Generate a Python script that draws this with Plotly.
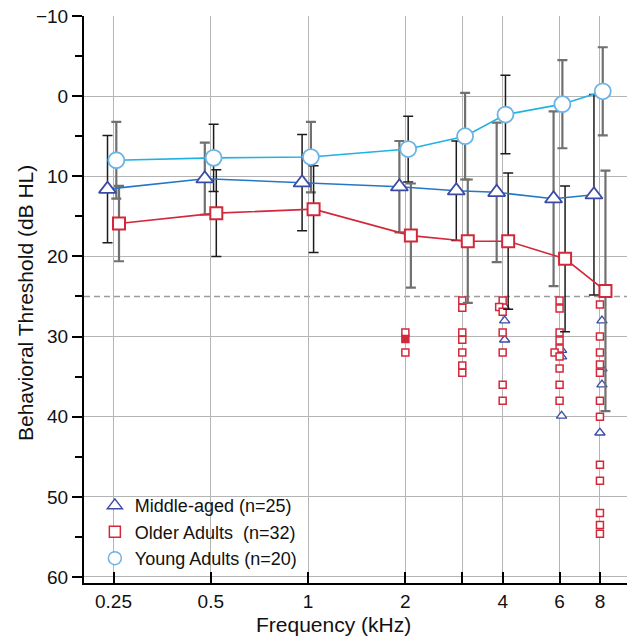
import numpy as np
import plotly.graph_objects as go

# ---- audiometric frequencies (kHz) and axis labels ----
freqs = [0.25, 0.5, 1, 2, 3, 4, 6, 8]
freq_labels = ["0.25", "0.5", "1", "2", "", "4", "6", "8"]
y_ticks = [-10, 0, 10, 20, 30, 40, 50, 60]
y_labels = ["\u221210", "0", "10", "20", "30", "40", "50", "60"]

# ---- group means and standard deviations (dB HL) ----
middle_mean = [11.6, 10.3, 10.8, 11.3, 11.8, 12.0, 12.8, 12.3]
middle_sd = [6.7, 4.5, 6.0, 5.7, 6.2, 8.7, 10.9, 12.5]
older_mean = [15.9, 14.6, 14.1, 17.4, 18.1, 18.1, 20.3, 24.3]
older_sd = [4.7, 5.4, 5.4, 6.5, 7.7, 8.5, 9.1, 15.0]
young_mean = [8.0, 7.7, 7.6, 6.6, 5.0, 2.3, 1.0, -0.6]
young_sd = [4.8, 4.2, 4.4, 4.1, 5.4, 4.9, 5.5, 5.5]

# ---- individual thresholds above 25 dB HL ----
older_ind_khz = [2, 2, 2,
                 3, 3, 3, 3, 3, 3, 3,
                 4, 4, 4, 4, 4, 4, 4,
                 6, 6, 6, 6, 6, 6, 6, 6, 6, 6,
                 8, 8, 8, 8, 8, 8, 8, 8, 8, 8, 8, 8]
older_ind_db = [29.5, 30.3, 32.0,
                25.5, 26.4, 29.5, 30.4, 32.0, 33.6, 34.5,
                25.5, 26.3, 26.9, 29.5, 32.0, 36.0, 38.0,
                25.5, 26.5, 29.5, 30.5, 31.5, 32.0, 32.5, 34.0, 36.0, 38.0,
                26.0, 30.0, 32.0, 33.5, 34.5, 38.0, 40.0, 46.0, 48.0, 52.0, 53.5, 54.6]
middle_ind_khz = [4, 4, 4, 6, 6, 6, 8, 8, 8, 8]
middle_ind_db = [26.3, 28.0, 30.4, 31.7, 32.5, 39.9, 28.0, 34.0, 36.0, 42.0]

# ---- figure geometry ----
W, H = 627, 639
M = dict(l=84, r=0, t=16, b=56)
x_range = [np.log10(0.2026), np.log10(9.7)]
y_range = [60.75, -10]
px_per_dec = (W - M["l"] - M["r"]) / (x_range[1] - x_range[0])


def dodge(f, px):
    """Shift a frequency sideways by a fixed number of pixels on the log axis."""
    return [v * 10 ** (px / px_per_dec) for v in f]


# ---- styles ----
FONT = "Liberation Sans, Arial, Helvetica, sans-serif"
C_MID_MK, C_MID_LN = "#3b4aa6", "#2378c6"
C_OLD = "#d3283a"
C_YNG_MK, C_YNG_LN = "#6cb3e6", "#20b2e2"
EB_STYLE = {"k": ("#1c1c1c", 1.5), "g": ("#707070", 2.2)}
mid_eb = ["k", "g", "k", "g", "k", "g", "g", "k"]
yng_eb = ["g", "k", "g", "k", "g", "k", "g", "g"]
old_eb = ["g", "k", "k", "g", "g", "k", "k", "g"]
DX_MID, DX_YNG, DX_OLD = -6.0, 2.8, 5.5

fig = go.Figure()

# individual points: middle-aged (triangles, nudged right of the grid line)
mid_x = [f * 10 ** ((2.0 if d < 41 else 0.0) / px_per_dec)
         for f, d in zip(middle_ind_khz, middle_ind_db)]
fig.add_trace(go.Scatter(
    x=mid_x, y=middle_ind_db, mode="markers", showlegend=False, hoverinfo="skip",
    marker=dict(symbol="triangle-up", size=9, color="white",
                line=dict(color=C_MID_MK, width=1.3))))

# individual points: older adults (squares); overlapping ones nudged left
nudge = {(4, 26.3): -3.5, (6, 32.0): -5.0}
old_x = [f * 10 ** (nudge.get((f, d), 0.0) / px_per_dec)
         for f, d in zip(older_ind_khz, older_ind_db)]
old_fill = ["white" if (f, d) != (2, 30.3) else C_OLD
            for f, d in zip(older_ind_khz, older_ind_db)]
fig.add_trace(go.Scatter(
    x=old_x, y=older_ind_db, mode="markers", showlegend=False, hoverinfo="skip",
    marker=dict(symbol="square", size=7, color=old_fill,
                line=dict(color=C_OLD, width=1.5))))


# error bars, split into black / grey strokes
def add_errorbars(xs, means, sds, flags):
    for key, (col, thick) in EB_STYLE.items():
        idx = [i for i, k in enumerate(flags) if k == key]
        if not idx:
            continue
        fig.add_trace(go.Scatter(
            x=[xs[i] for i in idx], y=[means[i] for i in idx], mode="markers",
            showlegend=False, hoverinfo="skip",
            marker=dict(size=1, opacity=0),
            error_y=dict(type="data", array=[sds[i] for i in idx], symmetric=True,
                         color=col, thickness=thick, width=5)))


x_mid = dodge(freqs, DX_MID)
x_yng = dodge(freqs, DX_YNG)
x_old = dodge(freqs, DX_OLD)
add_errorbars(x_mid, middle_mean, middle_sd, mid_eb)
add_errorbars(x_yng, young_mean, young_sd, yng_eb)
add_errorbars(x_old, older_mean, older_sd, old_eb)

# group means
fig.add_trace(go.Scatter(
    x=x_mid, y=middle_mean, mode="lines+markers", showlegend=False,
    line=dict(color=C_MID_LN, width=1.6),
    marker=dict(symbol="triangle-up", size=15, color="white",
                line=dict(color=C_MID_MK, width=1.8))))
fig.add_trace(go.Scatter(
    x=x_old, y=older_mean, mode="lines+markers", showlegend=False,
    line=dict(color=C_OLD, width=1.6),
    marker=dict(symbol="square", size=12, color="white",
                line=dict(color=C_OLD, width=2))))
fig.add_trace(go.Scatter(
    x=x_yng, y=young_mean, mode="lines+markers", showlegend=False,
    line=dict(color=C_YNG_LN, width=1.6),
    marker=dict(symbol="circle", size=16, color="white",
                line=dict(color=C_YNG_MK, width=1.8))))

# legend entries
for name, sym, size, col in [
        ("Middle-aged (n=25)", "triangle-up", 13, C_MID_MK),
        ("Older Adults  (n=32)", "square", 11, C_OLD),
        ("Young Adults (n=20)", "circle", 13, C_YNG_MK)]:
    fig.add_trace(go.Scatter(
        x=[None], y=[None], mode="markers", name=name,
        marker=dict(symbol=sym, size=size, color="white",
                    line=dict(color=col, width=1.5))))

# 25 dB HL reference line
fig.add_shape(type="line", xref="paper", x0=0, x1=1, yref="y", y0=25, y1=25,
              line=dict(color="#9c9c9c", width=1.5, dash="6px,4px"), layer="below")

# axis titles
plot_w = W - M["l"] - M["r"]
plot_h = H - M["t"] - M["b"]
fig.add_annotation(text="Frequency (kHz)", xref="paper", yref="paper",
                   x=(333 - M["l"]) / plot_w, y=-(625 - (H - M["b"])) / plot_h,
                   xanchor="center", yanchor="middle", showarrow=False,
                   font=dict(size=21))
fig.add_annotation(text="Behavioral Threshold (dB HL)", xref="paper", yref="paper",
                   x=-(M["l"] - 25) / plot_w, y=((H - M["b"]) - 303) / plot_h,
                   xanchor="center", yanchor="middle", showarrow=False,
                   textangle=-90, font=dict(size=21))

fig.update_layout(
    width=W, height=H, margin=M,
    paper_bgcolor="white", plot_bgcolor="white",
    font=dict(family=FONT, size=18, color="#111111"),
    legend=dict(x=0.02, y=0.169, xanchor="left", yanchor="top",
                bgcolor="rgba(0,0,0,0)", font=dict(size=18),
                traceorder="normal", itemsizing="trace"),
    xaxis=dict(
        type="log", range=x_range, tickvals=freqs, ticktext=freq_labels,
        ticks="inside", ticklen=11, tickwidth=2, tickcolor="black",
        showline=True, linecolor="black", linewidth=2,
        showgrid=True, gridcolor="#b5b5b5", gridwidth=1.4, zeroline=False,
        tickfont=dict(size=19)),
    yaxis=dict(
        range=y_range, tickvals=y_ticks, ticktext=y_labels,
        ticks="outside", ticklen=10, tickwidth=2, tickcolor="black",
        showline=True, linecolor="black", linewidth=2,
        showgrid=True, gridcolor="#b5b5b5", gridwidth=1.4, zeroline=False,
        tickfont=dict(size=19),
        minor=dict(tickvals=[-5, 5, 15, 25, 35, 45, 55], ticks="outside",
                   ticklen=7, tickwidth=1.5, tickcolor="black", showgrid=False)),
)

fig.write_html("out.html")
